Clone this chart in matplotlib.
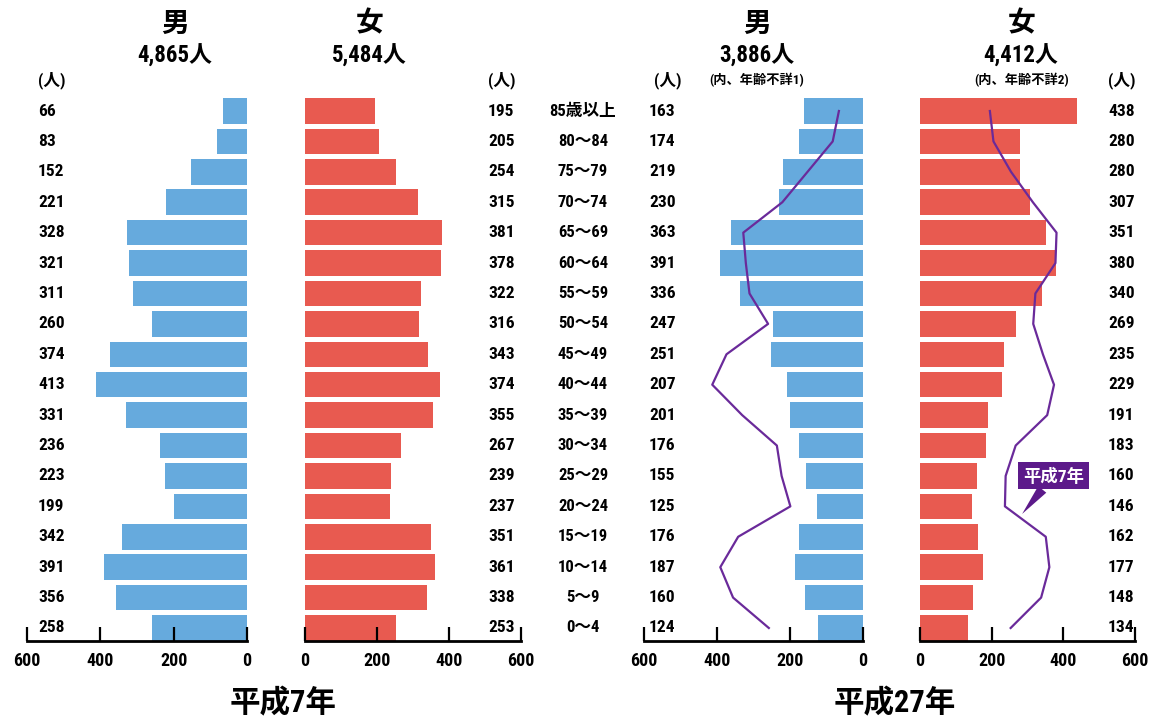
"""平成7年・平成27年 人口ピラミッド"""
import matplotlib
matplotlib.use("Agg")
import matplotlib.pyplot as plt
import matplotlib.transforms as mtransforms
from matplotlib import font_manager
import numpy as np

# フォント: 数字は細め、漢字は Noto Sans CJK JP
names = {f.name for f in font_manager.fontManager.ttflist}
NUM_FONT = "DejaVu Sans"
for cand in ["Liberation Sans Narrow", "Roboto Condensed", "Liberation Sans", "Roboto"]:
    if cand in names:
        NUM_FONT = cand
        break
FAM = [NUM_FONT, "Noto Sans CJK JP", "DejaVu Sans"]
plt.rcParams["font.family"] = FAM
plt.rcParams["font.weight"] = "bold"

# --- データ (上から 85歳以上 → 0～4) ---
ages = ["85歳以上", "80～84", "75～79", "70～74", "65～69", "60～64", "55～59", "50～54",
        "45～49", "40～44", "35～39", "30～34", "25～29", "20～24", "15～19", "10～14",
        "5～9", "0～4"]
h7_male = [66, 83, 152, 221, 328, 321, 311, 260, 374, 413, 331, 236, 223, 199, 342, 391, 356, 258]
h7_female = [195, 205, 254, 315, 381, 378, 322, 316, 343, 374, 355, 267, 239, 237, 351, 361, 338, 253]
h27_male = [163, 174, 219, 230, 363, 391, 336, 247, 251, 207, 201, 176, 155, 125, 176, 187, 160, 124]
h27_female = [438, 280, 280, 307, 351, 380, 340, 269, 235, 229, 191, 183, 160, 146, 162, 177, 148, 134]
ticks = [0, 200, 400, 600]

BLUE = "#66AADD"
RED = "#E85A50"
PURPLE = "#6A2A9A"
BOX = "#5C1A8A"

W, H = 1154, 722
fig = plt.figure(figsize=(W / 100, H / 100), dpi=100)

n = len(ages)
ypos = np.arange(n)[::-1]          # 85歳以上が一番上
Y_BOT, Y_TOP = -0.43, 17.53
px_per_row = (628 - 111) / 17
ax_top_px = 628 - (Y_TOP) * px_per_row
ax_bot_px = 628 - (Y_BOT) * px_per_row


def fx(x):
    return x / W


def fy(y):
    return 1 - y / H


def make_ax(x0, x1, invert):
    ax = fig.add_axes([fx(x0), fy(ax_bot_px), fx(x1 - x0), (ax_bot_px - ax_top_px) / H])
    ax.set_ylim(Y_BOT, Y_TOP)
    ax.set_xlim((600, 0) if invert else (0, 600))
    for s in ["top", "left", "right"]:
        ax.spines[s].set_visible(False)
    ax.spines["bottom"].set_linewidth(2)
    ax.set_yticks([])
    ax.set_xticks(ticks)
    ax.tick_params(axis="x", direction="in", length=10, width=1.6, pad=8, labelsize=13)
    for lab in ax.get_xticklabels():
        lab.set_fontweight("bold")
    ax.patch.set_alpha(0)
    return ax


ax_lm = make_ax(27, 247, True)
ax_lf = make_ax(305, 521, False)
ax_rm = make_ax(644, 863, True)
ax_rf = make_ax(920, 1135, False)

ax_lm.barh(ypos, h7_male, height=0.84, color=BLUE)
ax_lf.barh(ypos, h7_female, height=0.84, color=RED)
ax_rm.barh(ypos, h27_male, height=0.84, color=BLUE)
ax_rf.barh(ypos, h27_female, height=0.84, color=RED)

# 平成7年の線
ax_rm.plot(h7_male, ypos, color=PURPLE, lw=1.6, clip_on=False)
ax_rf.plot(h7_female, ypos, color=PURPLE, lw=1.6, clip_on=False)

# 数値の列
tr = mtransforms.blended_transform_factory(fig.transFigure, ax_lm.transData)
cols = [(38, h7_male), (488, h7_female), (649, h27_male), (1108, h27_female)]
for x, vals in cols:
    for yv, v in zip(ypos, vals):
        fig.text(fx(x), yv, str(v), transform=tr, ha="left", va="center", fontsize=12.5, fontweight="bold")
for yv, a in zip(ypos, ages):
    fig.text(fx(583), yv, a, transform=tr, ha="center", va="center", fontsize=12, fontweight="bold")

# (人)
for x in [38, 488, 654, 1108]:
    fig.text(fx(x), fy(80), "(人)", ha="left", va="center", fontsize=12, fontweight="bold")

# 見出し
fig.text(fx(175), fy(24), "男", ha="center", va="center", fontsize=20, fontweight="bold")
fig.text(fx(370), fy(24), "女", ha="center", va="center", fontsize=20, fontweight="bold")
fig.text(fx(757), fy(24), "男", ha="center", va="center", fontsize=20, fontweight="bold")
fig.text(fx(1022), fy(24), "女", ha="center", va="center", fontsize=20, fontweight="bold")
fig.text(fx(175), fy(56), "4,865人", ha="center", va="center", fontsize=16.5, fontweight="bold")
fig.text(fx(369), fy(56), "5,484人", ha="center", va="center", fontsize=16.5, fontweight="bold")
fig.text(fx(757), fy(56), "3,886人", ha="center", va="center", fontsize=16.5, fontweight="bold")
fig.text(fx(1021), fy(56), "4,412人", ha="center", va="center", fontsize=16.5, fontweight="bold")
fig.text(fx(757), fy(80), "(内、年齢不詳1)", ha="center", va="center", fontsize=9.5, fontweight="bold")
fig.text(fx(1022), fy(80), "(内、年齢不詳2)", ha="center", va="center", fontsize=9.5, fontweight="bold")

fig.text(fx(283), fy(703), "平成7年", ha="center", va="center", fontsize=22, fontweight="bold")
fig.text(fx(895), fy(703), "平成27年", ha="center", va="center", fontsize=22, fontweight="bold")

# 吹き出し
ax_rf.annotate("平成7年", xy=(285, 3.75), xytext=(372, 5.0), ha="center", va="center",
               color="white", fontsize=12.5, fontweight="bold", annotation_clip=False,
               bbox=dict(boxstyle="square,pad=0.28", fc=BOX, ec="none"),
               arrowprops=dict(arrowstyle="wedge,tail_width=0.6,shrink_factor=0.5",
                               fc=BOX, ec="none", shrinkA=0, shrinkB=0))

fig.savefig("out.png", dpi=100)
